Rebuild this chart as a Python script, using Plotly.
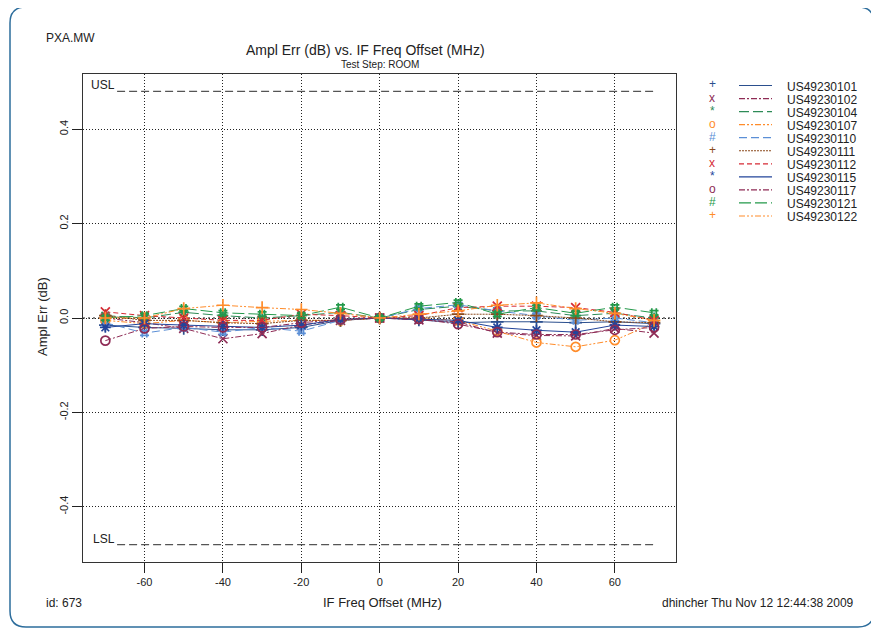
import plotly.graph_objects as go

# ---------------- data ----------------
x_vals = [-70, -60, -50, -40, -30, -20, -10, 0, 10, 20, 30, 40, 50, 60, 70]

series_names = ["US49230101", "US49230102", "US49230104", "US49230107", "US49230110",
                "US49230111", "US49230112", "US49230115", "US49230117", "US49230121",
                "US49230122"]

s101 = [-0.015, -0.020, -0.022, -0.025, -0.025, -0.020, -0.005, 0, -0.004, -0.010, -0.008, -0.008, -0.010, -0.008, -0.012]
s102 = [0.000, -0.010, -0.022, -0.044, -0.033, -0.015, -0.005, 0, -0.004, -0.008, -0.032, -0.037, -0.038, -0.022, -0.032]
s104 = [0.005, 0.000, 0.012, 0.005, 0.000, 0.005, 0.012, 0, 0.018, 0.025, 0.015, 0.015, 0.005, 0.010, 0.000]
s107 = [-0.005, -0.012, -0.005, -0.010, -0.007, -0.005, -0.005, 0, -0.001, -0.005, -0.028, -0.052, -0.061, -0.047, -0.011]
s110 = [-0.010, -0.032, -0.020, -0.030, -0.020, -0.028, -0.005, 0, 0.020, 0.028, 0.015, 0.005, -0.005, 0.000, -0.010]
s111 = [0.005, -0.005, -0.005, -0.010, -0.012, -0.005, -0.005, 0, 0.000, 0.008, 0.008, 0.005, 0.000, -0.008, -0.010]
s112 = [0.013, 0.005, 0.000, -0.005, -0.005, 0.008, 0.005, 0, 0.005, 0.022, 0.025, 0.025, 0.022, 0.012, -0.005]
s115 = [-0.020, -0.012, -0.015, -0.018, -0.020, -0.015, -0.003, 0, -0.002, -0.005, -0.020, -0.026, -0.030, -0.015, -0.018]
s117 = [-0.048, -0.022, -0.018, -0.020, -0.020, -0.010, -0.003, 0, -0.002, -0.013, -0.030, -0.035, -0.035, -0.025, -0.020]
s121 = [0.000, 0.005, 0.020, 0.011, 0.008, 0.005, 0.023, 0, 0.025, 0.033, 0.008, 0.022, 0.010, 0.023, 0.011]
s122 = [0.000, 0.000, 0.020, 0.027, 0.022, 0.018, 0.010, 0, 0.008, 0.015, 0.027, 0.032, 0.020, 0.010, -0.005]

series_values = [s101, s102, s104, s107, s110, s111, s112, s115, s117, s121, s122]

x_ticks = [-60, -40, -20, 0, 20, 40, 60]
x_tick_labels = ["-60", "-40", "-20", "0", "20", "40", "60"]
y_ticks = [-0.4, -0.2, 0.0, 0.2, 0.4]
y_tick_labels = ["-0.4", "-0.2", "0.0", "0.2", "0.4"]
usl = 0.48
lsl = -0.48
limit_x = [-67, 70]

# ---------------- styles ----------------
colors = ["#2b4f8e", "#8e2b55", "#2e8b57", "#ff8c2a", "#5b8fd6", "#8b4a1c",
          "#d62a35", "#22449a", "#8e2b55", "#23994a", "#ff8c2a"]
symbols = ["cross-thin-open", "x-thin-open", "asterisk-open", "circle-open", "hash-open",
           "cross-thin-open", "x-thin-open", "asterisk-open", "circle-open", "hash-open",
           "cross-thin-open"]
glyphs = ["+", "x", "*", "o", "#", "+", "x", "*", "o", "#", "+"]
dashes = ["solid", "6px,2px,2px,2px", "10px,4px", "6px,2px,2px,2px,2px,2px", "8px,4px",
          "2px,1px", "5px,3px", "solid", "6px,2px,2px,2px", "12px,4px",
          "6px,2px,2px,2px,2px,2px"]

FONT = "Liberation Sans Narrow, Arial Narrow, Liberation Sans, sans-serif"

# page body has an 8px margin: work in reference pixels and shift
OFF = 8
W, H = 879 - OFF, 632 - OFF
L, R, T, B = 83 - OFF, 676 - OFF, 74 - OFF, 562 - OFF

def px(xp):
    return (xp - OFF - L) / (R - L)

def py(yp):
    return (B - (yp - OFF)) / (B - T)

fig = go.Figure()

for name, vals, c, sym, d in zip(series_names, series_values, colors, symbols, dashes):
    fig.add_trace(go.Scatter(
        x=x_vals, y=vals, name=name, mode="lines+markers",
        line=dict(color=c, width=1, dash=d),
        marker=dict(symbol=sym, size=9, color=c, line=dict(color=c, width=1.7)),
        showlegend=False))

# spec limits
for val in (usl, lsl):
    fig.add_trace(go.Scatter(x=limit_x, y=[val, val], mode="lines",
                             line=dict(color="#555555", width=1.3, dash="8px,4px"),
                             showlegend=False, hoverinfo="skip"))

ann = []
for lbl, val in (("USL", usl), ("LSL", lsl)):
    ann.append(dict(x=limit_x[0], y=val, xref="x", yref="y", text=lbl, showarrow=False,
                    xanchor="right", yanchor="bottom", yshift=-3,
                    font=dict(family=FONT, size=12, color="#222")))

def txt(text, xp, yp, size, xanchor="center", yanchor="middle", angle=0):
    ann.append(dict(x=px(xp), y=py(yp), xref="paper", yref="paper", text=text,
                    showarrow=False, xanchor=xanchor, yanchor=yanchor, textangle=angle,
                    borderpad=0, font=dict(family=FONT, size=size, color="#222")))

txt("PXA.MW", 45, 38, 12, xanchor="left")
txt("Ampl Err (dB) vs. IF Freq Offset (MHz)", 365, 50, 14)
txt("Test Step: ROOM", 380, 64, 10)
txt("Ampl Err (dB)", 42, 317, 13, angle=-90)
txt("IF Freq Offset (MHz)", 382, 602, 13)
txt("id: 673", 45, 603, 12, xanchor="left")
txt("dhincher Thu Nov 12 12:44:38 2009", 855, 603, 12, xanchor="right")

shapes = []
# zero reference line (grey dotted, as in the reference)
shapes.append(dict(type="line", xref="paper", yref="y", x0=0, x1=1, y0=0, y1=0,
                   line=dict(color="#888888", width=2, dash="2px,3px"), layer="below"))

# legend
for i, (name, c, g, d) in enumerate(zip(series_names, colors, glyphs, dashes)):
    yrow = 85.5 + i * 13.05
    ann.append(dict(x=px(712), y=py(yrow - 1), xref="paper", yref="paper", text=g,
                    showarrow=False, xanchor="center", yanchor="middle", borderpad=0,
                    font=dict(family=FONT, size=12, color=c)))
    shapes.append(dict(type="line", xref="paper", yref="paper",
                       x0=px(739), x1=px(772), y0=py(yrow), y1=py(yrow),
                       line=dict(color=c, width=1.2, dash=d)))
    txt(name, 786, yrow + 1, 12, xanchor="left")

# rounded frame
x0, x1, y0, y1, r = 10, 874, 7, 627, 16
path = (f"M {px(x0+r)},{py(y0)} L {px(x1-r)},{py(y0)} Q {px(x1)},{py(y0)} {px(x1)},{py(y0+r)} "
        f"L {px(x1)},{py(y1-r)} Q {px(x1)},{py(y1)} {px(x1-r)},{py(y1)} "
        f"L {px(x0+r)},{py(y1)} Q {px(x0)},{py(y1)} {px(x0)},{py(y1-r)} "
        f"L {px(x0)},{py(y0+r)} Q {px(x0)},{py(y0)} {px(x0+r)},{py(y0)} Z")
shapes.append(dict(type="path", xref="paper", yref="paper", path=path,
                   line=dict(color="#2d6d9c", width=1.5), layer="below"))

fig.update_layout(
    width=W, height=H,
    margin=dict(l=L, r=W - R, t=T, b=H - B, pad=0),
    paper_bgcolor="white", plot_bgcolor="white",
    font=dict(family=FONT, size=11, color="#222"),
    annotations=ann, shapes=shapes, showlegend=False,
    xaxis=dict(range=[-75.7, 75.6], tickvals=x_ticks, ticktext=x_tick_labels,
               ticks="outside", ticklen=10,
               tickcolor="#222", tickfont=dict(family=FONT, size=11),
               showgrid=True, gridcolor="#222", griddash="1px,2px", gridwidth=1,
               zeroline=False, showline=True, linecolor="#333", linewidth=1.2,
               mirror=True),
    yaxis=dict(range=[-0.517, 0.517], tickvals=y_ticks, ticktext=y_tick_labels,
               ticks="outside", ticklen=10, tickcolor="#222", tickangle=-90,
               tickfont=dict(family=FONT, size=11),
               showgrid=True, gridcolor="#222", griddash="1px,2px", gridwidth=1,
               zeroline=False, showline=True, linecolor="#333", linewidth=1.2,
               mirror=True),
)

fig.write_html("out.html")
